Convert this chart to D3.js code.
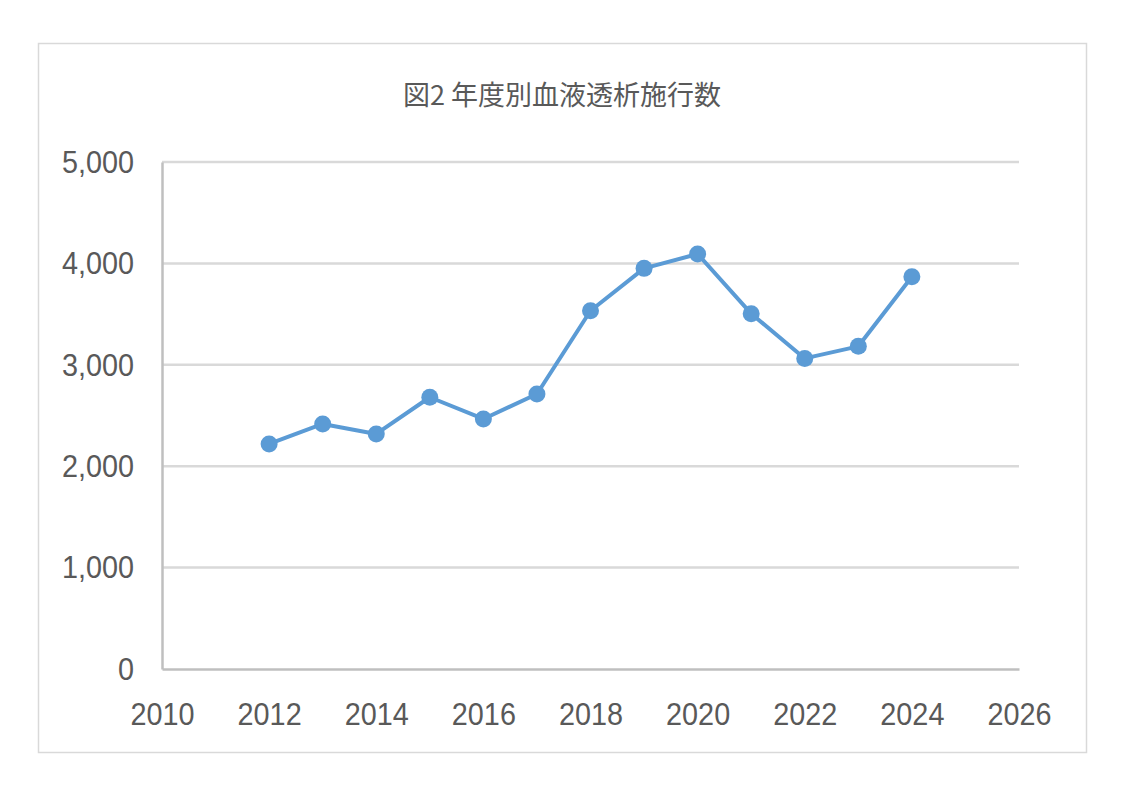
<!DOCTYPE html>
<html>
<head>
<meta charset="utf-8">
<script src="https://cdn.jsdelivr.net/npm/d3@7"></script>
<style>
  html, body { margin: 0; padding: 0; background: #fff; }
  svg { display: block; font-family: "Liberation Sans", "Noto Sans CJK JP", sans-serif; }
</style>
</head>
<body>
<svg id="chart" width="1123" height="794"></svg>
<script>
const years = [2012, 2013, 2014, 2015, 2016, 2017, 2018, 2019, 2020, 2021, 2022, 2023, 2024]
const counts = [2220, 2417, 2318, 2680, 2466, 2712, 3533, 3951, 4093, 3504, 3063, 3182, 3868]
const xTicks = [2010, 2012, 2014, 2016, 2018, 2020, 2022, 2024, 2026]
const yTicks = [0, 1000, 2000, 3000, 4000, 5000]
const title = "図2 年度別血液透析施行数"

const svg = d3.select("#chart")
const squeeze = 0.9 // labels are narrower than Liberation Sans

// outer frame
svg.append("rect")
  .attr("x", 38.5).attr("y", 43.5)
  .attr("width", 1048).attr("height", 709)
  .attr("fill", "#fff")
  .attr("stroke", "#d9d9d9")
  .attr("stroke-width", 1.5)

const margin = { top: 162, left: 162, right: 1123 - 1019, bottom: 794 - 669 }
const width = 1123 - margin.left - margin.right
const height = 794 - margin.top - margin.bottom

const g = svg.append("g").attr("transform", `translate(${margin.left},${margin.top})`)

const x = d3.scaleLinear().domain([2010, 2026]).range([0, width])
const y = d3.scaleLinear().domain([0, 5000]).range([height, 0])

// horizontal gridlines
g.append("g")
  .selectAll("line")
  .data(yTicks.filter((d) => d > 0))
  .join("line")
  .attr("x1", 0).attr("x2", width)
  .attr("y1", (d) => y(d)).attr("y2", (d) => y(d))
  .attr("stroke", "#d9d9d9")
  .attr("stroke-width", 2.5)

// y axis
const yAxis = g.append("g")
  .call(d3.axisLeft(y).tickValues(yTicks).tickSize(0).tickPadding(28).tickFormat(d3.format(",")))
yAxis.select(".domain").attr("stroke", "#bfbfbf").attr("stroke-width", 2.5)
yAxis.selectAll("text")
  .style("font-size", "32px")
  .style("fill", "#595959")
  .attr("x", -28 / squeeze)
  .attr("transform", `scale(${squeeze},1)`)

// x axis
const xAxis = g.append("g")
  .attr("transform", `translate(0,${height})`)
  .call(d3.axisBottom(x).tickValues(xTicks).tickSize(0).tickPadding(33).tickFormat(d3.format("d")))
xAxis.select(".domain").attr("stroke", "#bfbfbf").attr("stroke-width", 2.5)
xAxis.selectAll("text")
  .style("font-size", "32px")
  .style("fill", "#595959")
  .attr("transform", `scale(${squeeze},1)`)

// data line
const data = years.map((yr, i) => ({ year: yr, value: counts[i] }))

const line = d3.line()
  .x((d) => x(d.year))
  .y((d) => y(d.value))

g.append("path")
  .datum(data)
  .attr("fill", "none")
  .attr("stroke", "#5b9bd5")
  .attr("stroke-width", 4)
  .attr("stroke-linejoin", "round")
  .attr("d", line)

g.append("g")
  .selectAll("circle")
  .data(data)
  .join("circle")
  .attr("cx", (d) => x(d.year))
  .attr("cy", (d) => y(d.value))
  .attr("r", 8.5)
  .attr("fill", "#5b9bd5")

// title
svg.append("text")
  .attr("x", 562)
  .attr("y", 98)
  .attr("text-anchor", "middle")
  .attr("dominant-baseline", "middle")
  .style("font-family", "'Noto Sans CJK JP', sans-serif")
  .style("font-size", "27px")
  .style("fill", "#595959")
  .text(title)
</script>
</body>
</html>
